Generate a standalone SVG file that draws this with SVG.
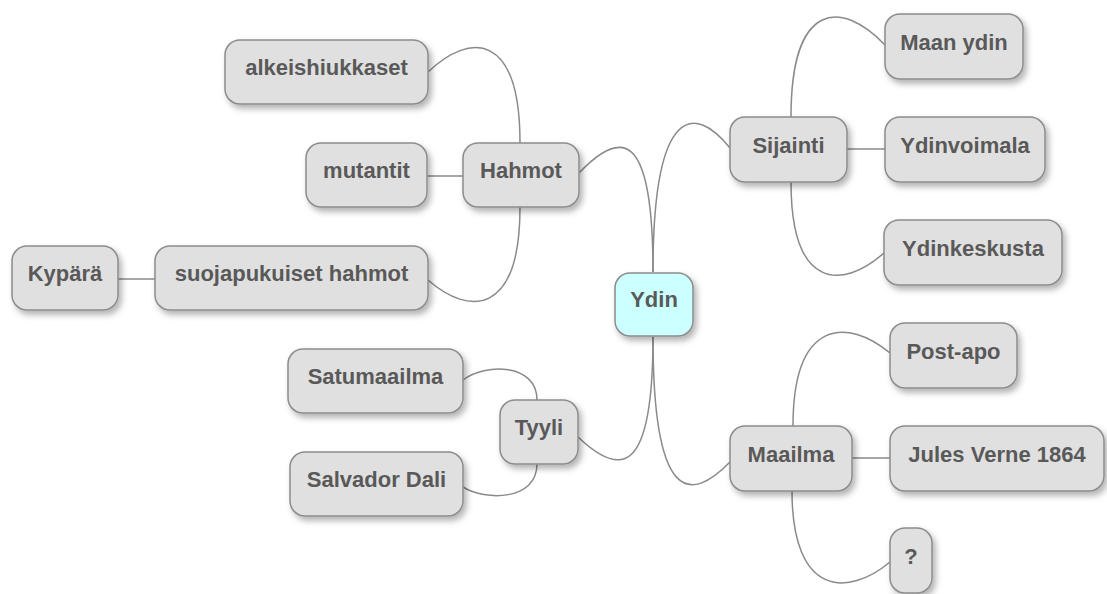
<svg xmlns="http://www.w3.org/2000/svg" width="1107" height="594" viewBox="0 0 1107 594">
  <style>
    .node rect { fill: #e0e0e0; stroke: #8c8c8c; stroke-width: 1.5; filter: url(#shadow); }
    .node.root rect { fill: #ccffff; }
    .node text { font-family: "Liberation Sans", Arial, sans-serif; font-weight: bold; font-size: 22px; fill: #595959; text-anchor: middle; }
    #edges path { fill: none; stroke: #8a8a8a; stroke-width: 1.5; }
  </style>
  <defs>
    <filter id="shadow" x="-20%" y="-20%" width="150%" height="160%">
      <feDropShadow dx="3" dy="4" stdDeviation="3" flood-color="#000" flood-opacity="0.3"/>
    </filter>
  </defs>
  <rect width="1107" height="594" fill="#ffffff"/>

  <g id="edges">
    <!-- root branches -->
    <path d="M653 272 C653 129, 621 129, 579 173"/>
    <path d="M653 272 C653 104, 695 104, 730 148"/>
    <path d="M653 337 C653 477, 620 477, 578 437"/>
    <path d="M653 337 C653 503, 690 503, 730 462"/>
    <!-- Hahmot -->
    <path d="M520 143 C520 32, 470 32, 428 72"/>
    <path d="M463 176 L427 176"/>
    <path d="M520 207 C520 316, 469 316, 428 280"/>
    <path d="M155 279 L118 279"/>
    <!-- Tyyli -->
    <path d="M537 400 C537 363, 485 363, 463 380"/>
    <path d="M537 464 C537 501, 485 501, 463 487"/>
    <!-- Sijainti -->
    <path d="M791 117 C791 0, 842 0, 885 45"/>
    <path d="M847 149 L885 149"/>
    <path d="M791 182 C791 290, 842 290, 884 253"/>
    <!-- Maailma -->
    <path d="M793 426 C793 318, 848 318, 890 353"/>
    <path d="M852 458 L890 458"/>
    <path d="M792 491 C792 597, 848 597, 890 562"/>
  </g>

  <g id="node-ydin" class="node root">
    <rect x="615" y="273" width="78" height="63" rx="15"/>
    <text x="654" y="307">Ydin</text>
  </g>

  <g id="node-hahmot" class="node">
    <rect x="463" y="143" width="116" height="64" rx="15"/>
    <text x="521" y="178">Hahmot</text>
  </g>
  <g id="node-alkeishiukkaset" class="node">
    <rect x="225" y="40" width="203" height="64" rx="15"/>
    <text x="326.5" y="75">alkeishiukkaset</text>
  </g>
  <g id="node-mutantit" class="node">
    <rect x="306" y="143" width="121" height="64" rx="15"/>
    <text x="366.5" y="178">mutantit</text>
  </g>
  <g id="node-suojapukuiset" class="node">
    <rect x="155" y="246" width="273" height="64" rx="15"/>
    <text x="291.5" y="281">suojapukuiset hahmot</text>
  </g>
  <g id="node-kypara" class="node">
    <rect x="12" y="246" width="106" height="64" rx="15"/>
    <text x="65" y="281">Kypärä</text>
  </g>

  <g id="node-tyyli" class="node">
    <rect x="500" y="400" width="78" height="64" rx="15"/>
    <text x="539" y="435">Tyyli</text>
  </g>
  <g id="node-satumaailma" class="node">
    <rect x="288" y="349" width="175" height="64" rx="15"/>
    <text x="375.5" y="384">Satumaailma</text>
  </g>
  <g id="node-salvador" class="node">
    <rect x="290" y="452" width="173" height="64" rx="15"/>
    <text x="376.5" y="487">Salvador Dali</text>
  </g>

  <g id="node-sijainti" class="node">
    <rect x="730" y="117" width="117" height="65" rx="15"/>
    <text x="788.5" y="153">Sijainti</text>
  </g>
  <g id="node-maanydin" class="node">
    <rect x="885" y="14" width="138" height="65" rx="15"/>
    <text x="954" y="50">Maan ydin</text>
  </g>
  <g id="node-ydinvoimala" class="node">
    <rect x="885" y="117" width="160" height="65" rx="15"/>
    <text x="965" y="153">Ydinvoimala</text>
  </g>
  <g id="node-ydinkeskusta" class="node">
    <rect x="884" y="220" width="178" height="65" rx="15"/>
    <text x="973" y="256">Ydinkeskusta</text>
  </g>

  <g id="node-maailma" class="node">
    <rect x="730" y="426" width="122" height="65" rx="15"/>
    <text x="791" y="462">Maailma</text>
  </g>
  <g id="node-postapo" class="node">
    <rect x="890" y="323" width="127" height="65" rx="15"/>
    <text x="953.5" y="359">Post-apo</text>
  </g>
  <g id="node-jules" class="node">
    <rect x="890" y="426" width="214" height="65" rx="15"/>
    <text x="997" y="462">Jules Verne 1864</text>
  </g>
  <g id="node-question" class="node">
    <rect x="890" y="528" width="42" height="65" rx="15"/>
    <text x="911" y="564">?</text>
  </g>
</svg>
